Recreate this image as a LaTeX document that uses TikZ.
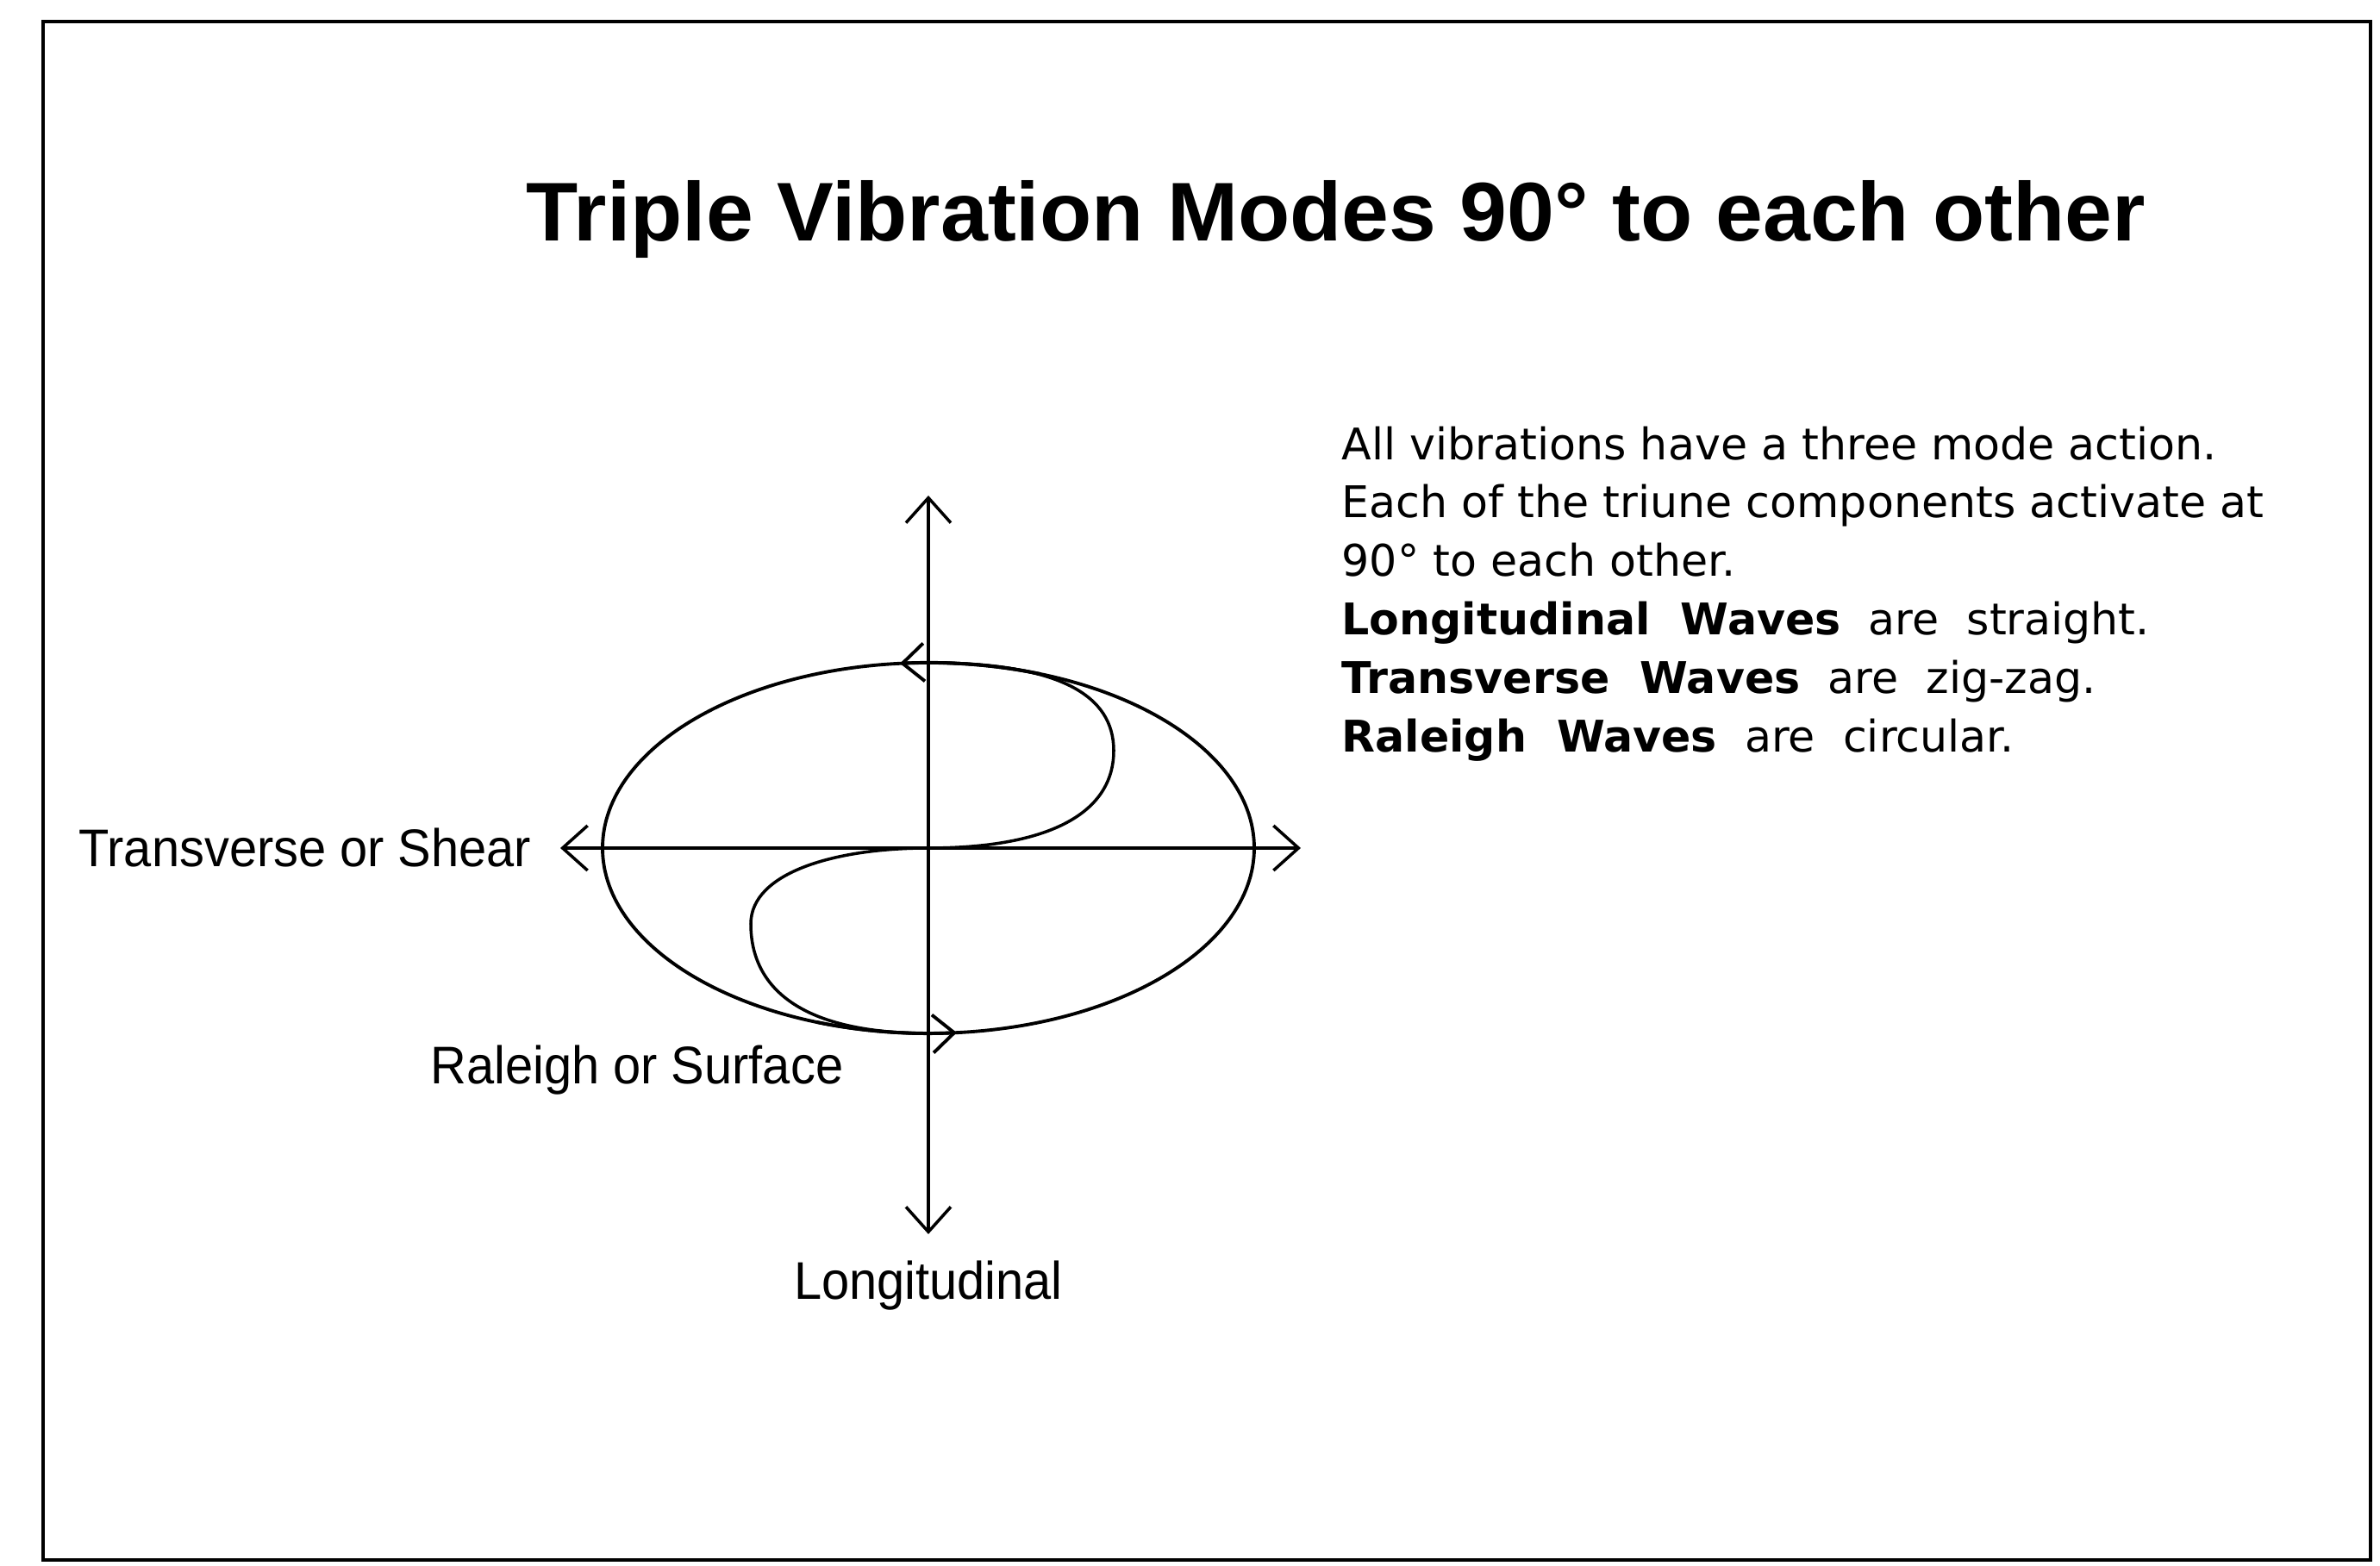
\documentclass[tikz,border=0pt]{standalone}
\usepackage{fontspec}
\usetikzlibrary{arrows.meta,positioning}
\newfontfamily\headfont[FakeStretch=1.02]{Liberation Sans}
\newfontfamily\notefont{DejaVu Sans}
\newfontfamily\axisfont[FakeStretch=0.94]{Liberation Sans}
\tikzset{
  frame/.style={draw=black, line width=1.1pt},
  axis/.style={line width=1pt, <->},
  orbit/.style={line width=1.1pt, draw=black},
  orbitarrow/.style={line width=1.1pt, -{Straight Barb[length=2.5mm, width=4.4mm]}},
  sweep/.style={line width=1pt, line cap=round},
  axislabel/.style={font=\axisfont\fontsize{17.5}{20}\selectfont, inner sep=0pt},
  headline/.style={font=\headfont\bfseries\fontsize{27.5}{32}\selectfont, inner sep=0pt},
  note/.style={font=\notefont\fontsize{14.4}{19.3}\selectfont, align=left, inner sep=0pt},
}

\begin{document}
\begin{tikzpicture}[>={Straight Barb[length=2.9mm, width=5.2mm]}]
\useasboundingbox (0,0) rectangle (27.61,18.17);
\draw[frame] (0.50,0.07) rectangle (27.50,17.92);
\node[headline, anchor=base] (title) at (15.50,15.37) {Triple Vibration Modes 90° to each other};
% axes
\coordinate (o) at (10.77,8.33);
\coordinate (ytop) at (10.77,12.42);
\coordinate (ybot) at (10.77,3.85);
\coordinate (xleft) at (6.50,8.33);
\coordinate (xright) at (15.09,8.33);
\draw[axis] (xleft) -- (xright);
\draw[axis] (ybot) -- (ytop);
% orbit and its direction marks
\coordinate (otop) at (10.77,10.48);
\coordinate (obot) at (10.77,6.18);
\draw[orbit] (o) ellipse (3.78 and 2.15);
\draw[orbitarrow] ([shift={(70:3.78 and 2.15)}]o) arc[start angle=70, end angle=95, x radius=3.78, y radius=2.15];
\draw[orbitarrow] ([shift={(250:3.78 and 2.15)}]o) arc[start angle=250, end angle=275, x radius=3.78, y radius=2.15];
% S sweep
\draw[sweep] (otop) .. controls (12.3,10.48) and (12.92,10.1) .. (12.92,9.46)
  .. controls (12.92,8.75) and (12.2,8.33) .. (o)
  .. controls (9.7,8.33) and (8.71,8.05) .. (8.71,7.45)
  .. controls (8.71,6.7) and (9.3,6.18) .. (obot);
% labels
\node[axislabel, left=0.33cm of xleft] (shear) {Transverse or Shear};
\node[axislabel, anchor=north east] (surface) at (9.79,6.05) {Raleigh or Surface};
\node[axislabel, below=0.3cm of ybot] (longi) {Longitudinal};
\node[note, anchor=north west] (notes) at (15.56,13.23) {All vibrations have a three mode action.\\
Each of the triune components activate at\\
90° to each other.\\
\textbf{Longitudinal\ \ Waves}\ \ are\ \ straight.\\
\textbf{Transverse\ \ Waves}\ \ are\ \ zig-zag.\\
\textbf{Raleigh\ \ Waves}\ \ are\ \ circular.};
\end{tikzpicture}
\end{document}
